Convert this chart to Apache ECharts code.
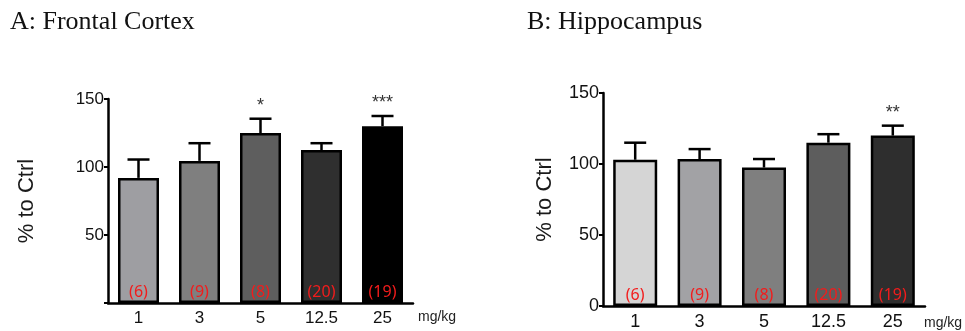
<!DOCTYPE html>
<html>
<head>
<meta charset="utf-8">
<script src="https://cdn.jsdelivr.net/npm/echarts@6/dist/echarts.min.js"></script>
<style>
  body { margin: 0; background: #fff; }
</style>
</head>
<body>
<div id="chart" style="width:965px; height:331px;"></div>
<script>
// doses (mg/kg) and group sizes
var doses = ['1', '3', '5', '12.5', '25'];
var groupN = [6, 9, 8, 20, 19];

// A: frontal cortex, % to ctrl
var frontalMean = [92, 104.5, 125, 112.5, 130];
var frontalSem = [13.5, 13, 10.5, 5, 7.5];
var frontalStars = ['', '', '*', '', '***'];
var frontalColors = ['#9e9ea2', '#7f7f7f', '#5e5e5e', '#2f2f2f', '#000000'];

// B: hippocampus, % to ctrl
var hippoMean = [103, 103.5, 97.5, 115, 120];
var hippoSem = [12, 7, 6, 6, 7];
var hippoStars = ['', '', '', '', '**'];
var hippoColors = ['#d5d5d5', '#a2a2a5', '#7f7f7f', '#5d5d5d', '#2e2e2e'];

var myChart = echarts.init(document.getElementById('chart'));

function barData(means, colors) {
  return means.map(function (v, i) {
    return { value: v, itemStyle: { color: colors[i] } };
  });
}

function errData(means, sems) {
  return means.map(function (v, i) { return [i, v, v + sems[i]]; });
}

// error bar + significance stars
function makeErr(stars, cap) {
  return function (params, api) {
    var i = api.value(0);
    var p0 = api.coord([i, api.value(1)]);
    var p1 = api.coord([i, api.value(2)]);
    var line = { stroke: '#000', lineWidth: 2.5 };
    return {
      type: 'group',
      children: [
        { type: 'line', shape: { x1: p0[0], y1: p0[1], x2: p1[0], y2: p1[1] }, style: line },
        { type: 'line', shape: { x1: p1[0] - cap, y1: p1[1], x2: p1[0] + cap, y2: p1[1] }, style: line },
        { type: 'text', x: p1[0], y: p1[1] - 4,
          style: { text: stars[i], fill: '#333', font: '18px "Liberation Sans", Arial',
                   align: 'center', verticalAlign: 'bottom' } }
      ]
    };
  };
}

function yAxis(gridIndex, nameGap, fontSize) {
  return {
    type: 'value', gridIndex: gridIndex, min: 0, max: 150, interval: 50,
    name: '% to Ctrl', nameLocation: 'middle', nameGap: nameGap, nameRotate: 90,
    nameTextStyle: { fontFamily: 'Liberation Sans', fontSize: 22, color: '#1a1a1a' },
    axisLine: { show: true, lineStyle: { color: '#000', width: 2.5 } },
    axisTick: { show: true, length: 4, lineStyle: { color: '#000', width: 2 } },
    axisLabel: {
      fontFamily: 'Liberation Sans', fontSize: fontSize, color: '#111', margin: 4,
      formatter: function (v) { return (gridIndex === 0 && v === 0) ? '' : String(v); }
    },
    splitLine: { show: false }
  };
}

function xAxis(gridIndex, fontSize) {
  return {
    type: 'category', gridIndex: gridIndex, data: doses,
    axisLine: { lineStyle: { color: '#000', width: 2.5 } },
    axisTick: { alignWithLabel: true, length: 4, lineStyle: { color: '#000', width: 2 } },
    axisLabel: { fontFamily: 'Liberation Sans', fontSize: fontSize, color: '#111', margin: 7 }
  };
}

function countLabel() {
  return {
    show: true, position: 'insideBottom', distance: 3,
    fontFamily: 'Noto Sans', fontSize: 16, color: '#f21c1c',
    formatter: function (p) { return '(' + groupN[p.dataIndex] + ')'; }
  };
}

myChart.setOption({
  animation: false,
  graphic: [
    { type: 'text', left: 10, top: 9, style: { text: 'A: Frontal Cortex', font: '26px "Liberation Serif"', fill: '#111' } },
    { type: 'text', left: 527, top: 9, style: { text: 'B: Hippocampus', font: '26px "Liberation Serif"', fill: '#111' } },
    { type: 'text', left: 418, top: 310, style: { text: 'mg/kg', font: '14px "Liberation Sans"', fill: '#222' } },
    { type: 'text', left: 924, top: 316, style: { text: 'mg/kg', font: '14px "Liberation Sans"', fill: '#222' } }
  ],
  grid: [
    { left: 108, top: 99, width: 305, height: 204 },
    { left: 603, top: 93, width: 322, height: 214 }
  ],
  xAxis: [xAxis(0, 17), xAxis(1, 18)],
  yAxis: [yAxis(0, 70, 17), yAxis(1, 47, 18)],
  series: [
    {
      type: 'bar', xAxisIndex: 0, yAxisIndex: 0, barWidth: 41,
      data: barData(frontalMean, frontalColors),
      itemStyle: { borderColor: '#000', borderWidth: 2.5 },
      label: countLabel()
    },
    {
      type: 'custom', xAxisIndex: 0, yAxisIndex: 0, z: 1,
      renderItem: makeErr(frontalStars, 11), data: errData(frontalMean, frontalSem)
    },
    {
      type: 'bar', xAxisIndex: 1, yAxisIndex: 1, barWidth: 44,
      data: barData(hippoMean, hippoColors),
      itemStyle: { borderColor: '#000', borderWidth: 2.5 },
      label: countLabel()
    },
    {
      type: 'custom', xAxisIndex: 1, yAxisIndex: 1, z: 1,
      renderItem: makeErr(hippoStars, 11), data: errData(hippoMean, hippoSem)
    }
  ]
});
</script>
</body>
</html>
